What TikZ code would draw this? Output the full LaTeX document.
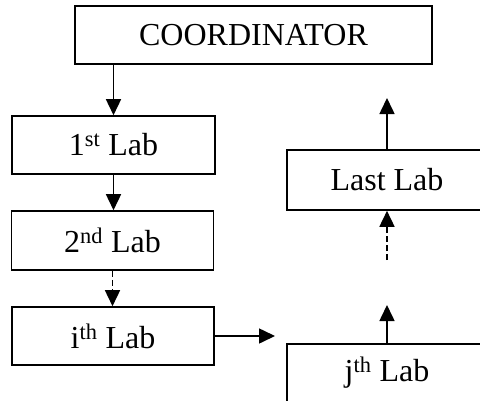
\documentclass[tikz,border=0pt]{standalone}
\usepackage{fontspec}
\setmainfont{Liberation Serif}
\usetikzlibrary{arrows.meta}
\tikzset{
  labbox/.style={draw, line width=1.6pt, inner sep=0pt, minimum width=202pt,
    minimum height=58pt, font=\fontsize{32}{38}\selectfont},
  flow/.style={line width=1.6pt, -{Triangle[length=16pt,width=15pt]}},
}
\begin{document}
\begin{tikzpicture}[x=1pt,y=-1pt]
      \useasboundingbox (0,0) rectangle (480,400);
      \clip (0,0) rectangle (480,400);
      \node[labbox, minimum width=357pt] (coord) at (253.5,35) {COORDINATOR};
      \node[labbox, minimum width=203pt] (lab1) at (113.5,145) {1\textsuperscript{st} Lab};
      \node[labbox, minimum height=59pt] (lab2) at (112.5,240.5) {2\textsuperscript{nd} Lab};
      \node[labbox] (labi) at (113,336) {i\textsuperscript{th} Lab};
      \node[labbox, minimum width=200pt, minimum height=60pt] (lablast) at (387,180) {Last Lab};
      \node[labbox, minimum width=200pt] (labj) at (387,373) {j\textsuperscript{th} Lab};
      \coordinate (iout) at (275,336);
      \coordinate (jout) at (387,305);
      \coordinate (lastin) at (387,260);
      \coordinate (lastout) at (387,98);
      \begin{scope}[flow]
        \draw (coord.south -| lab1.north) to (lab1.north);
        \draw (lab1.south) to (lab1.south |- lab2.north);
        \draw[dash pattern=on 6pt off 3pt] (lab2.south) to (lab2.south |- labi.north);
        \draw (labi.east) to (iout);
        \draw (labj.north) to (jout);
        \draw[dash pattern=on 6pt off 3pt] (lastin) to (lablast.south);
        \draw (lablast.north) to (lastout);
      \end{scope}
    \end{tikzpicture}
\end{document}
